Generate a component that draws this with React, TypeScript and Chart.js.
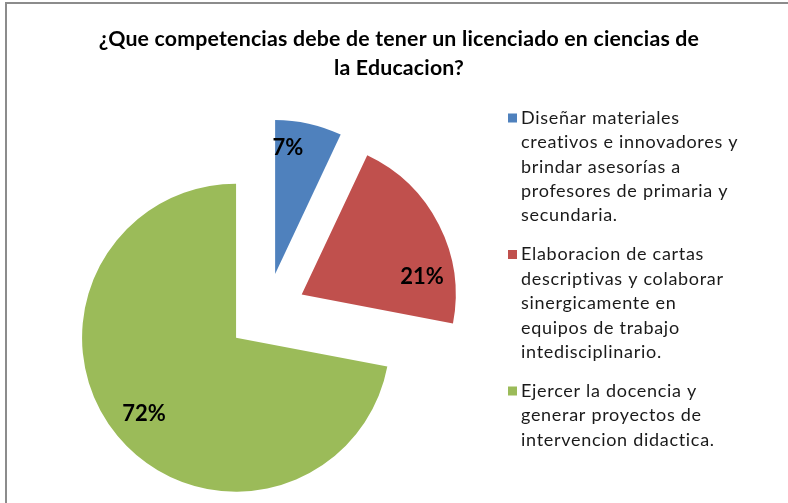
import React, { useEffect, useRef } from "react";
import { Chart, PieController, ArcElement } from "chart.js";

Chart.register(PieController, ArcElement);

const TITLE_LINES = [
  "¿Que competencias debe de tener un licenciado en ciencias de",
  "la Educacion?",
];
const CATEGORIES = [
  ["Diseñar materiales", "creativos e innovadores y", "brindar asesorías a", "profesores de primaria y", "secundaria."],
  ["Elaboracion de cartas", "descriptivas y colaborar", "sinergicamente en", "equipos de trabajo", "intedisciplinario."],
  ["Ejercer la docencia y", "generar proyectos de", "intervencion didactica."],
];
const VALUES = [7, 21, 72];
const COLORS = ["#4F81BD", "#C0504D", "#9BBB59"];

const FONT = "Lato, 'Open Sans', sans-serif";
const EXPLODE = 39.5;
const LABEL_ANGLE_FRAC = [0.23, 0.745, 0.5];
const LABEL_RADIUS_FRAC = [0.82, 0.79, 0.775];

const setSpacing = (ctx: any, v: string) => {
  try { ctx.letterSpacing = v; } catch (e) {}
};

const explodePlugin = {
  id: "explodeAndDecor",
  beforeDatasetDraw(chart: any, args: any) {
    const ctx = chart.ctx;
    args.meta.data.forEach((arc: any) => {
      const mid = (arc.startAngle + arc.endAngle) / 2;
      ctx.save();
      ctx.translate(Math.cos(mid) * EXPLODE, Math.sin(mid) * EXPLODE);
      arc.draw(ctx);
      ctx.restore();
    });
    return false;
  },
  afterDraw(chart: any) {
    const ctx = chart.ctx;
    ctx.save();
    // border
    ctx.strokeStyle = "#8c8c8c";
    ctx.lineWidth = 2;
    ctx.strokeRect(6, 3, 900, 600);

    // title
    ctx.fillStyle = "#000";
    ctx.textAlign = "center";
    ctx.textBaseline = "middle";
    ctx.font = `bold 21.3px ${FONT}`;
    setSpacing(ctx, "0.2px");
    TITLE_LINES.forEach((t, i) => ctx.fillText(t, 399, 39 + i * 29.5));

    // data labels
    setSpacing(ctx, "0px");
    const meta = chart.getDatasetMeta(0);
    const total = VALUES.reduce((a, b) => a + b, 0);
    ctx.font = `bold 22px ${FONT}`;
    meta.data.forEach((arc: any, i: number) => {
      const mid = (arc.startAngle + arc.endAngle) / 2;
      const cx = arc.x + Math.cos(mid) * EXPLODE;
      const cy = arc.y + Math.sin(mid) * EXPLODE;
      const a = arc.startAngle + (arc.endAngle - arc.startAngle) * LABEL_ANGLE_FRAC[i];
      const r = arc.outerRadius * LABEL_RADIUS_FRAC[i];
      const txt = Math.round((VALUES[i] / total) * 100) + "%";
      ctx.fillText(txt, cx + Math.cos(a) * r, cy + Math.sin(a) * r);
    });

    // legend
    ctx.textAlign = "left";
    ctx.font = `18px ${FONT}`;
    setSpacing(ctx, "0.7px");
    const lineH = 24.4;
    const gap = 14.5;
    let y = 118;
    CATEGORIES.forEach((lines, i) => {
      ctx.fillStyle = COLORS[i];
      ctx.fillRect(508, y - 4.5, 9, 9);
      ctx.fillStyle = "#1a1a1a";
      lines.forEach((ln, j) => ctx.fillText(ln, 521, y + j * lineH));
      y += lines.length * lineH + gap;
    });
    ctx.restore();
  },
};

export default function App() {
  const ref = useRef<HTMLCanvasElement>(null);
  useEffect(() => {
    if (!ref.current) return;
    const chart = new Chart(ref.current, {
      type: "pie",
      data: {
        labels: CATEGORIES.map((c) => c.join(" ")),
        datasets: [
          {
            data: VALUES,
            backgroundColor: COLORS,
            borderWidth: 0,
          },
        ],
      },
      options: {
        responsive: false,
        animation: false,
        events: [],
        radius: 154,
        layout: { padding: { left: 100, right: 355, top: 150, bottom: 28 } },
        plugins: { legend: { display: false }, title: { display: false }, tooltip: { enabled: false } },
      } as any,
      plugins: [explodePlugin],
    });
    return () => chart.destroy();
  }, []);
  return (
    <div style={{ position: "absolute", left: 0, top: 0, width: 788, height: 503, background: "#fff" }}>
      <canvas ref={ref} width={788} height={503} />
    </div>
  );
}
